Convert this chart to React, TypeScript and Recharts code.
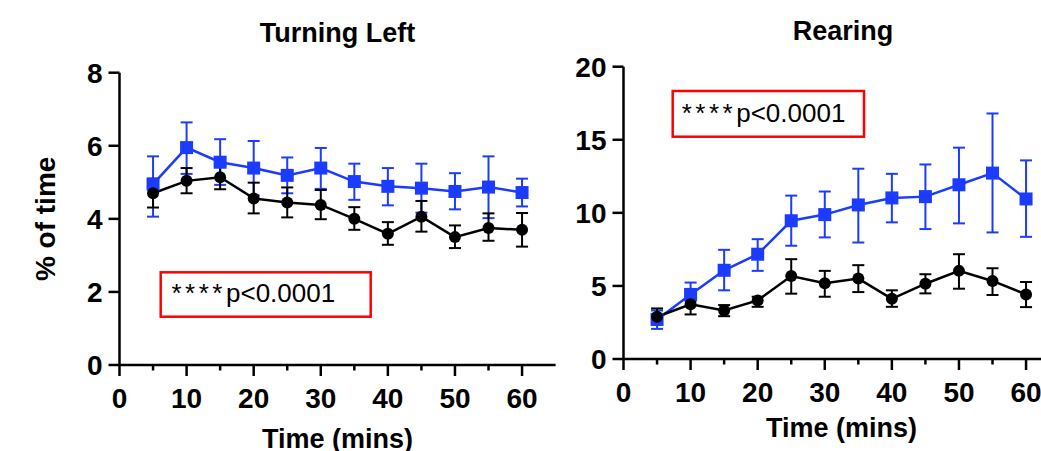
import { LineChart, Line, XAxis, YAxis, ErrorBar } from 'recharts';

const times = [5, 10, 15, 20, 25, 30, 35, 40, 45, 50, 55, 60];
const timeTicks = [0, 5, 10, 15, 20, 25, 30, 35, 40, 45, 50, 55, 60];

// Turning Left (% of time)
const turnBlue = [4.95, 5.95, 5.55, 5.39, 5.19, 5.39, 5.02, 4.89, 4.84, 4.75, 4.87, 4.72];
const turnBlueHi = [5.71, 6.64, 6.18, 6.13, 5.68, 5.94, 5.51, 5.39, 5.51, 5.25, 5.71, 5.1];
const turnBlueLo = [4.06, 5.23, 4.93, 4.64, 4.7, 4.82, 4.52, 4.37, 4.17, 4.26, 4.02, 4.34];
const turnBlack = [4.7, 5.04, 5.14, 4.56, 4.45, 4.38, 4.0, 3.59, 4.06, 3.5, 3.75, 3.7];
const turnBlackHi = [5.1, 5.39, 5.48, 4.99, 4.86, 4.79, 4.32, 3.91, 4.49, 3.82, 4.15, 4.16];
const turnBlackLo = [4.31, 4.7, 4.81, 4.15, 4.04, 3.99, 3.7, 3.29, 3.65, 3.2, 3.4, 3.24];
const turnTicks = [0, 2, 4, 6, 8];

// Rearing (% of time)
const rearBlue = [2.71, 4.42, 6.07, 7.17, 9.46, 9.88, 10.54, 11.02, 11.11, 11.92, 12.72, 10.95];
const rearBlueHi = [3.32, 5.23, 7.47, 8.2, 11.18, 11.46, 13.02, 12.67, 13.31, 14.46, 16.8, 13.59];
const rearBlueLo = [2.06, 3.97, 4.7, 6.03, 7.75, 8.32, 7.97, 9.35, 8.89, 9.28, 8.66, 8.36];
const rearBlack = [2.89, 3.74, 3.32, 4.01, 5.68, 5.18, 5.5, 4.12, 5.15, 6.03, 5.34, 4.42];
const rearBlackHi = [3.46, 4.38, 3.69, 4.26, 6.83, 6.03, 6.42, 4.7, 5.8, 7.17, 6.21, 5.27];
const rearBlackLo = [2.36, 3.05, 2.93, 3.57, 4.47, 4.26, 4.58, 3.57, 4.49, 4.81, 4.38, 3.55];
const rearTicks = [0, 5, 10, 15, 20];

const BLUE = '#1b3cff';
const FONT = '"Liberation Sans", Arial, sans-serif';

function buildRows(bMean: number[], bHi: number[], bLo: number[], kMean: number[], kHi: number[], kLo: number[]) {
  return times.map((t, i) => ({
    t,
    blue: bMean[i],
    blueErr: [bMean[i] - bLo[i], bHi[i] - bMean[i]],
    black: kMean[i],
    blackErr: [kMean[i] - kLo[i], kHi[i] - kMean[i]],
  }));
}

function TimeTick(props: any) {
  const { x, y, payload } = props;
  const major = payload.value % 10 === 0;
  return (
    <g>
      <line x1={x} x2={x} y1={y} y2={y + (major ? 11 : 5.5)} stroke="#000" strokeWidth={2.5} />
      {major && (
        <text x={x} y={y + 43} textAnchor="middle" fontSize={28} fontWeight={700} fill="#000">
          {payload.value}
        </text>
      )}
    </g>
  );
}

function Square(props: any) {
  const { cx, cy } = props;
  if (cx == null || cy == null) return null;
  return <rect x={cx - 6.5} y={cy - 6.5} width={13} height={13} fill={BLUE} />;
}

function Panel({
  rows,
  yMax,
  yTicks,
  yLabel,
  xLabelOffset,
}: {
  rows: any[];
  yMax: number;
  yTicks: number[];
  yLabel?: string;
  xLabelOffset: number;
}) {
  return (
    <LineChart width={600} height={451} data={rows} margin={{ top: 72.7, right: 44.4, bottom: 0, left: 0 }}>
      <XAxis
        type="number"
        dataKey="t"
        domain={[0, 65]}
        ticks={timeTicks}
        interval={0}
        tick={<TimeTick />}
        tickLine={false}
        tickSize={0}
        tickMargin={0}
        height={86}
        axisLine={{ stroke: '#000', strokeWidth: 2.5 }}
        label={{ value: 'Time (mins)', position: 'insideBottom', offset: xLabelOffset, fontSize: 27, fontWeight: 700, fill: '#000' }}
      />
      <YAxis
        type="number"
        domain={[0, yMax]}
        ticks={yTicks}
        interval={0}
        width={119.5}
        tickSize={11}
        tickMargin={6}
        tickLine={{ stroke: '#000', strokeWidth: 2.5 }}
        axisLine={{ stroke: '#000', strokeWidth: 2.5 }}
        tick={{ fill: '#000', fontSize: 28, fontWeight: 700 }}
        label={
          yLabel
            ? { value: yLabel, angle: -90, position: 'insideLeft', offset: 45, style: { textAnchor: 'middle' }, fontSize: 28, fontWeight: 700, fill: '#000' }
            : undefined
        }
      />
      <Line type="linear" dataKey="blue" stroke={BLUE} strokeWidth={2.5} dot={<Square />} isAnimationActive={false}>
        <ErrorBar dataKey="blueErr" direction="y" width={6} strokeWidth={2} stroke={BLUE} />
      </Line>
      <Line
        type="linear"
        dataKey="black"
        stroke="#000"
        strokeWidth={2.5}
        dot={{ r: 6, fill: '#000', stroke: '#000', strokeWidth: 0 }}
        isAnimationActive={false}
      >
        <ErrorBar dataKey="blackErr" direction="y" width={6} strokeWidth={2} stroke="#000" />
      </Line>
    </LineChart>
  );
}

export default function App() {
  const turnRows = buildRows(turnBlue, turnBlueHi, turnBlueLo, turnBlack, turnBlackHi, turnBlackLo);
  const rearRows = buildRows(rearBlue, rearBlueHi, rearBlueLo, rearBlack, rearBlackHi, rearBlackLo);

  return (
    <div
      style={{
        position: 'fixed',
        left: 0,
        top: 0,
        width: 1041,
        height: 451,
        overflow: 'hidden',
        background: '#fff',
        fontFamily: FONT,
      }}
    >
      <div style={{ position: 'absolute', left: 0, top: 0 }}>
        <Panel rows={turnRows} yMax={8} yTicks={turnTicks} yLabel="% of time" xLabelOffset={3} />
      </div>
      <div style={{ position: 'absolute', left: 504, top: -6.5 }}>
        <Panel rows={rearRows} yMax={20} yTicks={rearTicks} xLabelOffset={8} />
      </div>
      <svg width={1041} height={451} style={{ position: 'absolute', left: 0, top: 0, pointerEvents: 'none' }}>
        <text x={337.5} y={41.5} textAnchor="middle" fontSize={27} fontWeight={700} fill="#000">
          Turning Left
        </text>
        <text x={843} y={40} textAnchor="middle" fontSize={27} fontWeight={700} fill="#000">
          Rearing
        </text>
        <rect x={160.7} y={272.3} width={210} height={44.4} fill="none" stroke="#ff0000" strokeWidth={2.5} />
        <text x={171.5} y={302} fontSize={26} fill="#000">
          <tspan letterSpacing={3.5}>{'****'}</tspan>
          <tspan>{'p<0.0001'}</tspan>
        </text>
        <rect x={672.7} y={91} width={191.3} height={45.7} fill="none" stroke="#ff0000" strokeWidth={2.5} />
        <text x={681.7} y={121.5} fontSize={26} fill="#000">
          <tspan letterSpacing={3.5}>{'****'}</tspan>
          <tspan>{'p<0.0001'}</tspan>
        </text>
      </svg>
    </div>
  );
}
